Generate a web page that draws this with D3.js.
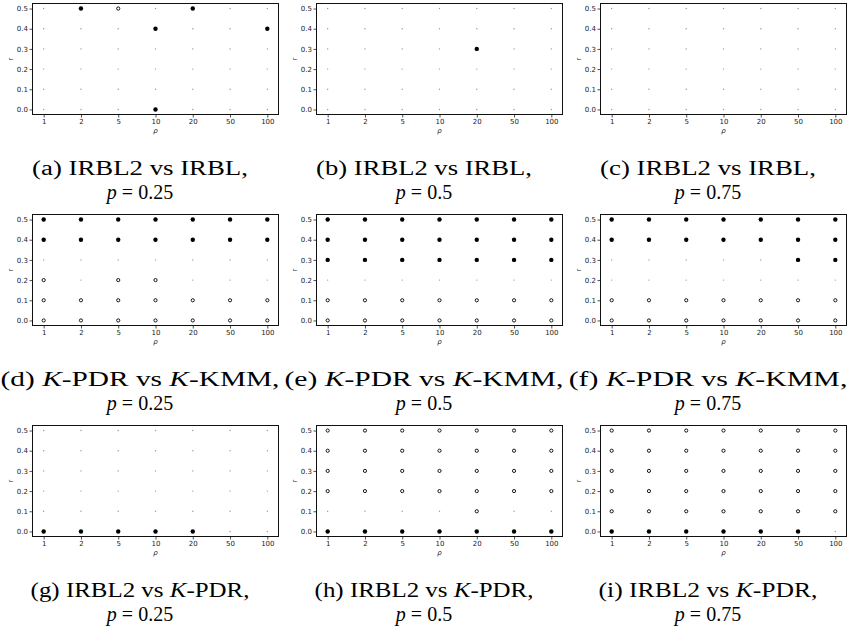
<!DOCTYPE html>
<html>
<head>
<meta charset="utf-8">
<script src="https://cdn.jsdelivr.net/npm/d3@7"></script>
<style>
  html, body { margin: 0; padding: 0; background: #fff; }
  svg { display: block; }
</style>
</head>
<body>
<svg id="chart" width="847" height="633"></svg>
<script>
// ---------------- DATA ----------------
const rhoLabels = ["1", "2", "5", "10", "20", "50", "100"];
const rValues = [0.5, 0.4, 0.3, 0.2, 0.1, 0.0];        // row order of the matrices below
const rTicks = [0.0, 0.1, 0.2, 0.3, 0.4, 0.5];
// 1 = filled dot, -1 = open circle, 0 = small grey dot
const panelA = [
  [0, 1, -1, 0, 1, 0, 0],
  [0, 0, 0, 1, 0, 0, 1],
  [0, 0, 0, 0, 0, 0, 0],
  [0, 0, 0, 0, 0, 0, 0],
  [0, 0, 0, 0, 0, 0, 0],
  [0, 0, 0, 1, 0, 0, 0]
];
const panelB = [
  [0, 0, 0, 0, 0, 0, 0],
  [0, 0, 0, 0, 0, 0, 0],
  [0, 0, 0, 0, 1, 0, 0],
  [0, 0, 0, 0, 0, 0, 0],
  [0, 0, 0, 0, 0, 0, 0],
  [0, 0, 0, 0, 0, 0, 0]
];
const panelC = [
  [0, 0, 0, 0, 0, 0, 0],
  [0, 0, 0, 0, 0, 0, 0],
  [0, 0, 0, 0, 0, 0, 0],
  [0, 0, 0, 0, 0, 0, 0],
  [0, 0, 0, 0, 0, 0, 0],
  [0, 0, 0, 0, 0, 0, 0]
];
const panelD = [
  [1, 1, 1, 1, 1, 1, 1],
  [1, 1, 1, 1, 1, 1, 1],
  [0, 0, 0, 0, 0, 0, 0],
  [-1, 0, -1, -1, 0, 0, 0],
  [-1, -1, -1, -1, -1, -1, -1],
  [-1, -1, -1, -1, -1, -1, -1]
];
const panelE = [
  [1, 1, 1, 1, 1, 1, 1],
  [1, 1, 1, 1, 1, 1, 1],
  [1, 1, 1, 1, 1, 1, 1],
  [0, 0, 0, 0, 0, 0, 0],
  [-1, -1, -1, -1, -1, -1, -1],
  [-1, -1, -1, -1, -1, -1, -1]
];
const panelF = [
  [1, 1, 1, 1, 1, 1, 1],
  [1, 1, 1, 1, 1, 1, 1],
  [0, 0, 0, 0, 0, 1, 1],
  [0, 0, 0, 0, 0, 0, 0],
  [-1, -1, -1, -1, -1, -1, -1],
  [-1, -1, -1, -1, -1, -1, -1]
];
const panelG = [
  [0, 0, 0, 0, 0, 0, 0],
  [0, 0, 0, 0, 0, 0, 0],
  [0, 0, 0, 0, 0, 0, 0],
  [0, 0, 0, 0, 0, 0, 0],
  [0, 0, 0, 0, 0, 0, 0],
  [1, 1, 1, 1, 1, 0, 0]
];
const panelH = [
  [-1, -1, -1, -1, -1, -1, -1],
  [-1, -1, -1, -1, -1, -1, -1],
  [-1, -1, -1, -1, -1, -1, -1],
  [-1, -1, -1, -1, -1, -1, -1],
  [0, 0, 0, 0, -1, 0, 0],
  [1, 1, 1, 1, 1, 1, 1]
];
const panelI = [
  [-1, -1, -1, -1, -1, -1, -1],
  [-1, -1, -1, -1, -1, -1, -1],
  [-1, -1, -1, -1, -1, -1, -1],
  [-1, -1, -1, -1, -1, -1, -1],
  [-1, -1, -1, -1, -1, -1, -1],
  [1, 1, 1, 1, 1, 1, 0]
];
const panels = [panelA, panelB, panelC, panelD, panelE, panelF, panelG, panelH, panelI];

// caption parts: [text, italic?]
const captionTitles = [
  [["(a) IRBL2 vs IRBL,", false]],
  [["(b) IRBL2 vs IRBL,", false]],
  [["(c) IRBL2 vs IRBL,", false]],
  [["(d) ", false], ["K", true], ["-PDR vs ", false], ["K", true], ["-KMM,", false]],
  [["(e) ", false], ["K", true], ["-PDR vs ", false], ["K", true], ["-KMM,", false]],
  [["(f) ", false], ["K", true], ["-PDR vs ", false], ["K", true], ["-KMM,", false]],
  [["(g) IRBL2 vs ", false], ["K", true], ["-PDR,", false]],
  [["(h) IRBL2 vs ", false], ["K", true], ["-PDR,", false]],
  [["(i) IRBL2 vs ", false], ["K", true], ["-PDR,", false]]
];
const pValues = ["0.25", "0.5", "0.75", "0.25", "0.5", "0.75", "0.25", "0.5", "0.75"];

// ---------------- LAYOUT ----------------
const svg = d3.select("#chart");
const colX = [32.5, 316.5, 600.5];
const rowY = [3.5, 214.5, 425.5];
const W = 246, H = 111;
const capOffset = 107.5;                 // caption centre relative to plot left
const titleWidth = [216, 279, 219];      // measured caption first-line width per row
const sansFont = "DejaVu Sans, sans-serif";
const serifFont = "Liberation Serif, serif";

const x = d3.scalePoint().domain(rhoLabels).range([0, W]).padding(0.3);
const y = d3.scaleLinear().domain([-0.025, 0.525]).range([H, 0]);

panels.forEach((mat, i) => {
  const col = i % 3, row = Math.floor(i / 3);
  const g = svg.append("g").attr("transform", `translate(${colX[col]},${rowY[row]})`);

  // axes
  const xa = g.append("g").attr("transform", `translate(0,${H})`)
    .call(d3.axisBottom(x).tickSize(3).tickPadding(1.5));
  const ya = g.append("g")
    .call(d3.axisLeft(y).tickValues(rTicks).tickFormat(d3.format(".1f")).tickSize(3).tickPadding(1.5));
  [xa, ya].forEach(a => {
    a.select(".domain").remove();
    a.selectAll("line").attr("stroke", "#222").attr("stroke-width", 0.8);
    a.selectAll("text").attr("font-family", sansFont).attr("font-size", 7).attr("fill", "#222");
  });

  // points
  const cells = [];
  mat.forEach((rowArr, ri) => rowArr.forEach((v, ci) => cells.push({rho: rhoLabels[ci], r: rValues[ri], v})));
  g.selectAll("circle.pt").data(cells).join("circle")
    .attr("class", "pt")
    .attr("cx", d => x(d.rho))
    .attr("cy", d => y(d.r))
    .attr("r", d => d.v === 1 ? 2.2 : d.v === -1 ? 1.6 : 0.7)
    .attr("fill", d => d.v === 1 ? "#000" : d.v === -1 ? "#fff" : "#999")
    .attr("stroke", d => d.v === -1 ? "#000" : "none")
    .attr("stroke-width", 0.9);

  // frame
  g.append("rect").attr("x", 0).attr("y", 0).attr("width", W).attr("height", H)
    .attr("fill", "none").attr("stroke", "#111").attr("stroke-width", 1);

  // axis labels
  g.append("text").attr("x", W / 2).attr("y", H + 18.5)
    .attr("text-anchor", "middle").attr("font-family", sansFont).attr("font-size", 7)
    .attr("font-style", "italic").attr("fill", "#222").text("ρ");
  g.append("text").attr("transform", `translate(-20,${H / 2}) rotate(-90)`)
    .attr("text-anchor", "middle").attr("font-family", sansFont).attr("font-size", 7)
    .attr("fill", "#222").text("r");

  // captions
  const cx = colX[col] + capOffset;
  const t1 = svg.append("text")
    .attr("font-family", serifFont).attr("font-size", 20).attr("fill", "#000")
    .attr("text-anchor", "middle");
  captionTitles[i].forEach(([txt, it]) => t1.append("tspan").attr("font-style", it ? "italic" : "normal").text(txt));
  const sx = titleWidth[row] / t1.node().getComputedTextLength();
  t1.attr("transform", `translate(${cx},${rowY[row] + 171}) scale(${sx},1)`);

  const t2 = svg.append("text")
    .attr("font-family", serifFont).attr("font-size", 20).attr("fill", "#000")
    .attr("text-anchor", "middle")
    .attr("transform", `translate(${cx},${rowY[row] + 195})`);
  t2.append("tspan").attr("font-style", "italic").text("p");
  t2.append("tspan").text(" = " + pValues[i]);
});
</script>
</body>
</html>
